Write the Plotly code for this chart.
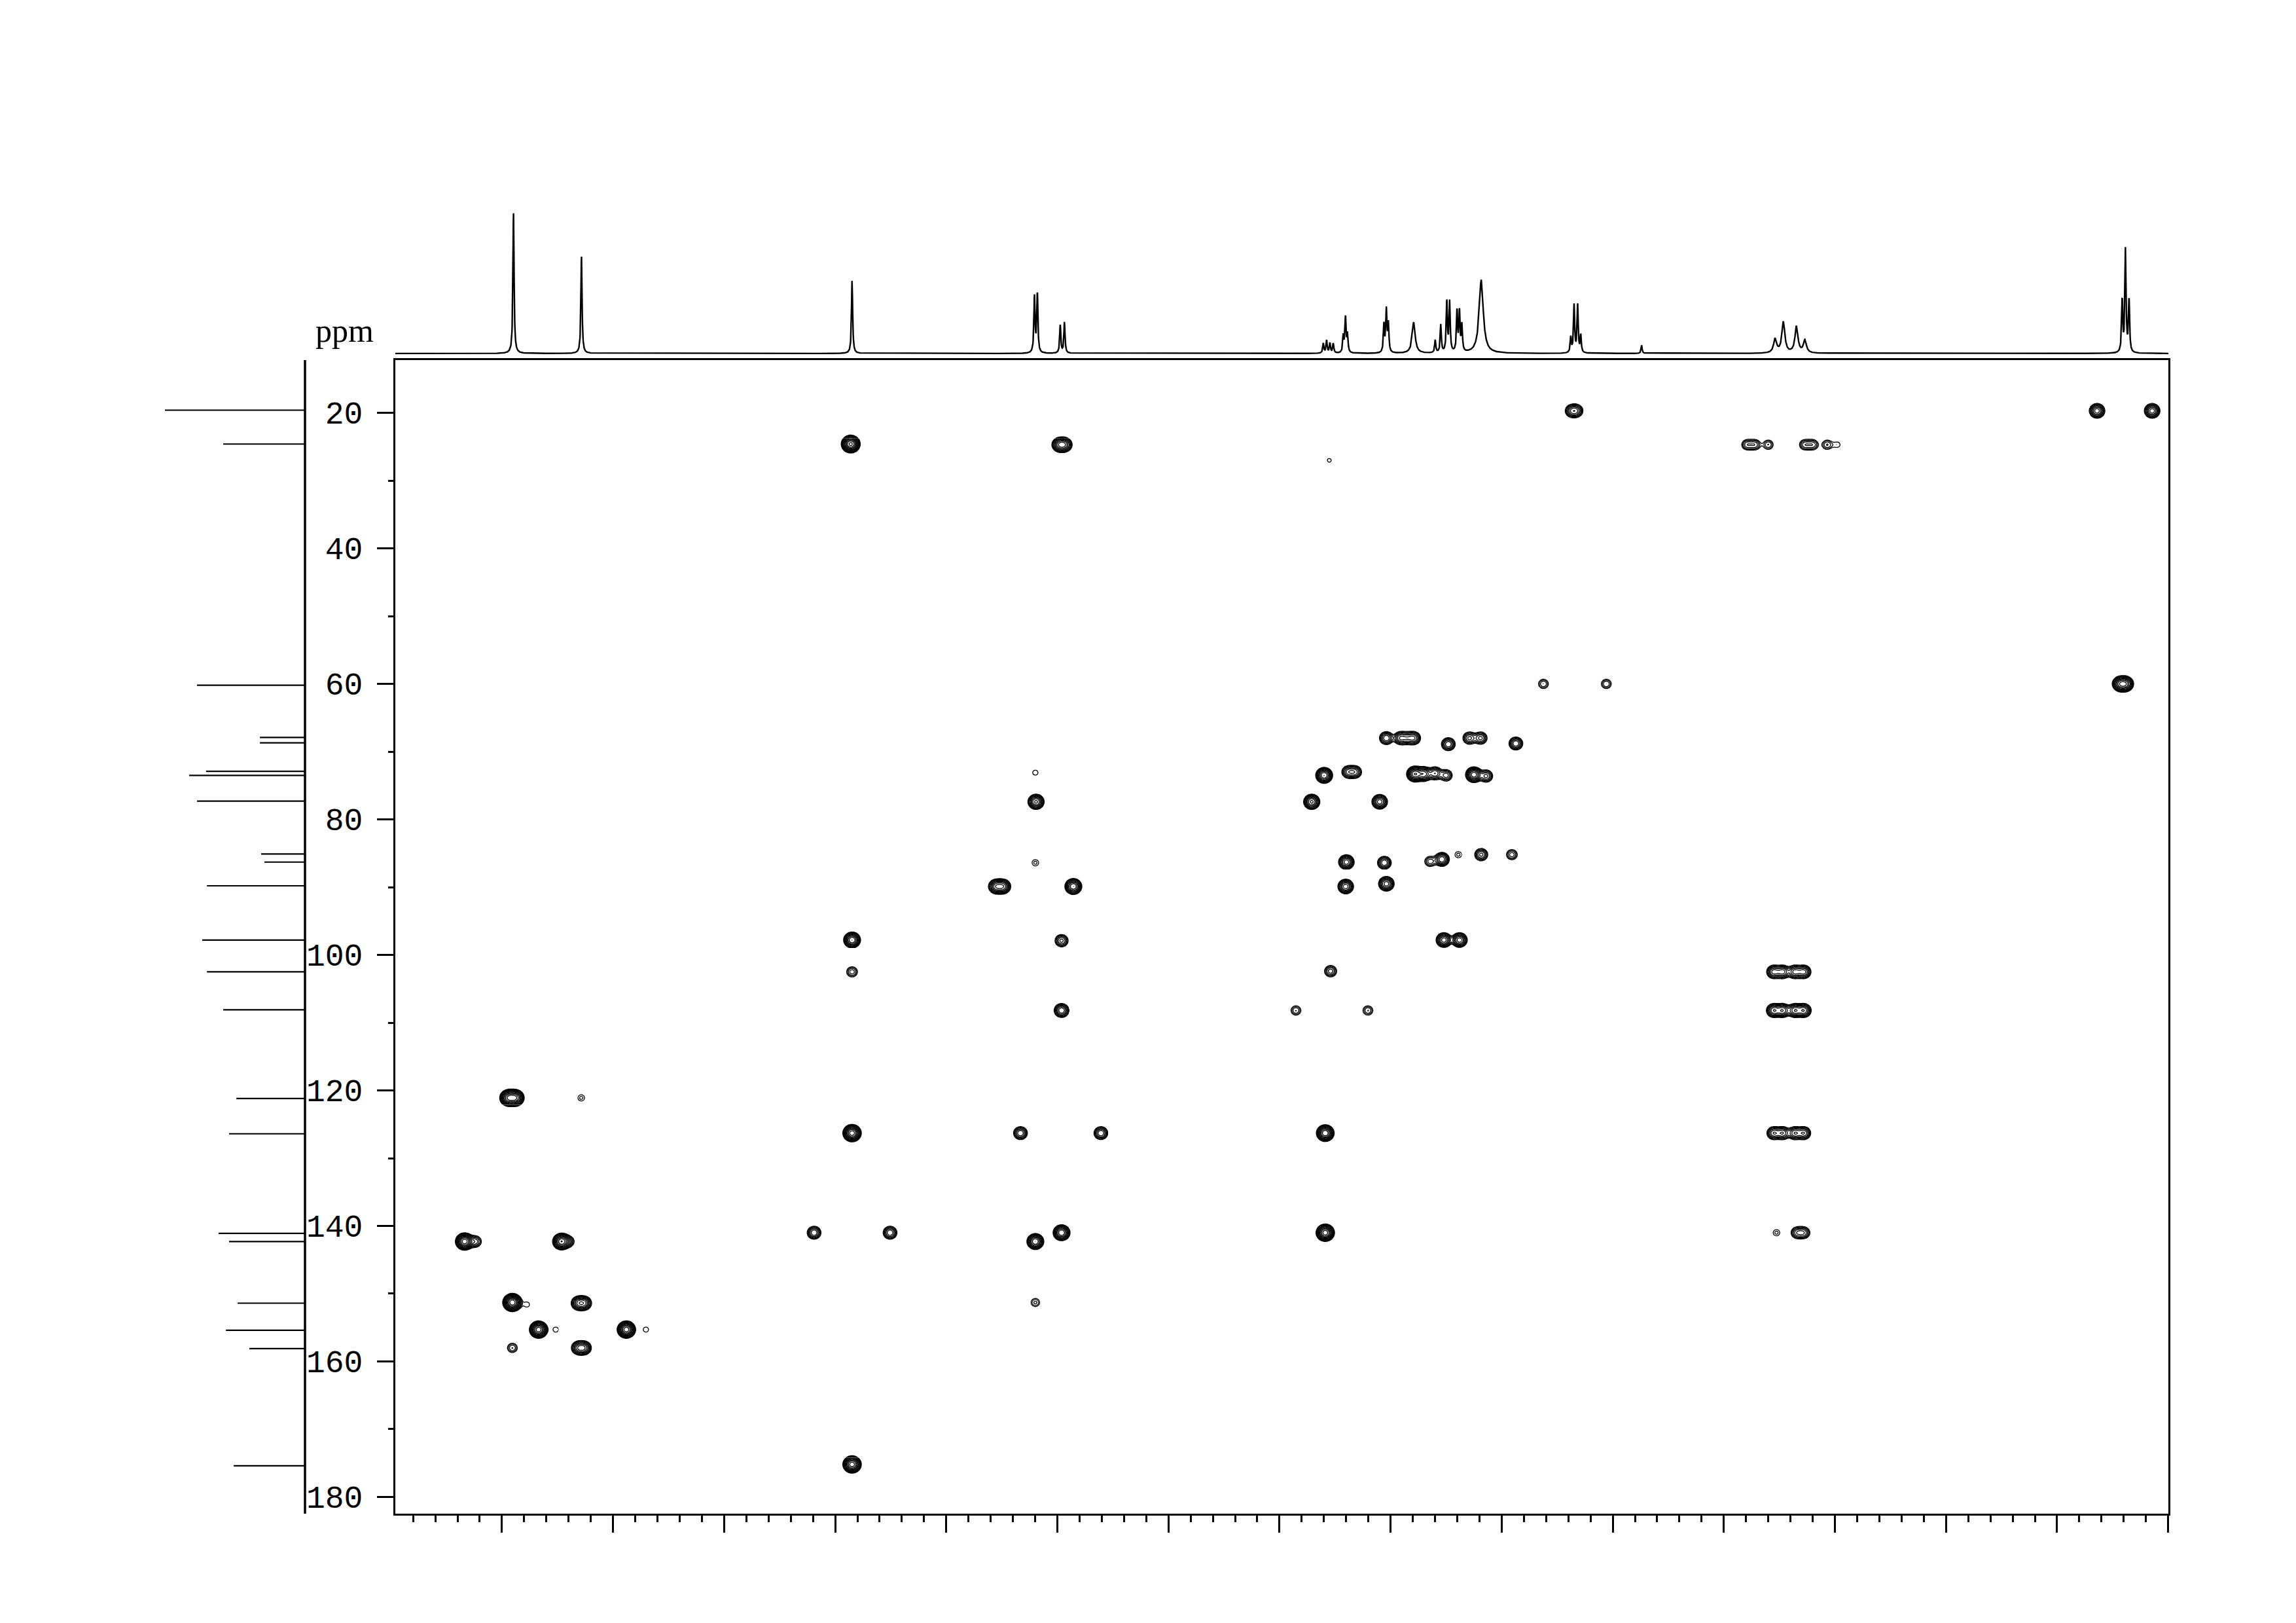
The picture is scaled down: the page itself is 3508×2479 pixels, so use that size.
import numpy as np
import plotly.graph_objects as go

# ---------------- data ----------------
# 1H projection (top): peak positions (ppm), relative heights, half-widths (ppm)
h1_ppm = [8.448, 8.142, 6.924, 6.103, 6.090, 5.987, 5.968,
          4.803, 4.788, 4.773, 4.758, 4.713, 4.703, 4.694,
          4.530, 4.519, 4.510, 4.396, 4.299, 4.274, 4.247, 4.234,
          4.201, 4.190, 4.179, 4.092, 3.689, 3.674, 3.658, 3.644,
          3.370, 2.769, 2.732, 2.673, 2.635, 1.207, 1.192, 1.176]
h1_int = [1.0, 0.69, 0.52, 0.40, 0.42, 0.20, 0.22,
          0.07, 0.09, 0.07, 0.07, 0.12, 0.25, 0.13,
          0.20, 0.30, 0.20, 0.22, 0.09, 0.20, 0.36, 0.36,
          0.29, 0.28, 0.19, 0.52, 0.11, 0.34, 0.34, 0.12,
          0.055, 0.10, 0.22, 0.19, 0.09, 0.37, 0.74, 0.37]
h1_hw = [0.003, 0.003, 0.003, 0.003, 0.003, 0.003, 0.003,
         0.003, 0.003, 0.003, 0.003, 0.003, 0.003, 0.003,
         0.003, 0.003, 0.003, 0.008, 0.003, 0.003, 0.003, 0.003,
         0.003, 0.003, 0.003, 0.011, 0.003, 0.003, 0.003, 0.003,
         0.003, 0.008, 0.008, 0.008, 0.008, 0.003, 0.003, 0.003]

# 13C projection (left): shifts (ppm) and relative heights
c13_ppm = [19.6, 24.6, 60.2, 67.9, 68.7, 72.9, 73.5, 77.3, 85.1, 86.3, 89.8,
           97.8, 102.5, 108.1, 121.2, 126.4, 141.1, 142.3, 151.4, 155.4, 158.1, 175.4]
c13_int = [1.0, 0.584, 0.771, 0.322, 0.322, 0.706, 0.827, 0.771, 0.313, 0.29, 0.70,
           0.734, 0.70, 0.584, 0.49, 0.542, 0.617, 0.542, 0.481, 0.565, 0.397, 0.509]

# HMBC cross peaks: 1H shift, 13C shift, relative intensity
hmbc_h = [3.684, 3.664, 1.320, 1.072,
          6.930, 5.990, 5.968, 2.895, 2.860, 2.800, 2.635, 2.600, 2.535, 2.489, 4.776,
          3.812, 3.529, 1.215, 1.192,
          4.519, 4.455, 4.425, 4.396, 4.240, 4.145, 4.095, 3.936,
          4.799, 4.690, 4.660, 4.390, 4.350, 4.300, 4.250, 4.125, 4.070, 6.099,
          4.855, 4.549, 6.096,
          4.269, 4.322, 4.195, 4.092, 3.954, 4.699, 4.528, 6.099,
          4.702, 4.519, 6.275, 6.245, 5.928,
          4.260, 4.190, 5.981, 6.924,
          6.924, 4.770, 2.775, 2.735, 2.680, 2.640,
          4.926, 4.602, 5.981, 2.775, 2.735, 2.680, 2.640,
          8.470, 8.440, 8.143,
          6.924, 6.166, 5.804, 4.794, 2.775, 2.735, 2.680, 2.640,
          7.095, 6.753, 5.981, 4.794, 2.763, 2.670, 2.640,
          8.668, 8.620, 8.232, 8.200, 6.099,
          8.453, 8.388, 8.155, 8.130, 6.099,
          8.335, 8.258, 7.940, 7.852,
          8.453, 8.155, 8.130,
          6.924]
hmbc_c = [19.7, 19.7, 19.7, 19.7,
          24.6, 24.7, 24.7, 24.7, 24.7, 24.7, 24.7, 24.7, 24.7, 24.7, 27.0,
          60.0, 60.0, 60.0, 60.0,
          68.0, 68.0, 68.0, 68.0, 68.9, 68.0, 68.0, 68.8,
          73.5, 73.0, 73.0, 73.3, 73.3, 73.2, 73.5, 73.4, 73.6, 73.1,
          77.4, 77.4, 77.4,
          85.9, 86.2, 85.2, 85.2, 85.2, 86.3, 86.4, 86.4,
          89.9, 89.5, 89.9, 89.9, 89.9,
          97.8, 97.8, 97.9, 97.8,
          102.5, 102.4, 102.5, 102.5, 102.5, 102.5,
          108.2, 108.2, 108.2, 108.2, 108.2, 108.2, 108.2,
          121.1, 121.1, 121.1,
          126.3, 126.3, 126.3, 126.3, 126.3, 126.3, 126.3, 126.3,
          141.0, 141.0, 141.0, 141.0, 141.0, 141.0, 141.0,
          142.3, 142.3, 142.3, 142.3, 142.3,
          151.3, 151.6, 151.4, 151.4, 151.3,
          155.3, 155.3, 155.3, 155.3,
          158.0, 158.0, 158.0,
          175.2]
hmbc_i = [5, 5, 10, 10,
          30, 9, 9, 3, 3, 2.5, 3, 3, 2.5, 1.3, 1.15,
          2.5, 2.5, 12, 12,
          6, 6, 4, 6, 6, 5, 5, 6,
          15, 5, 5, 15, 10, 6, 4, 14, 5, 1.3,
          12, 10, 12,
          8, 3, 1.5, 5, 3, 10, 6, 1.5,
          10, 10, 10, 10, 15,
          10, 10, 5, 15,
          3, 4, 7, 7, 7, 7,
          2.5, 2.5, 8, 8, 8, 8, 8,
          20, 20, 1.5,
          25, 6, 6, 20, 6, 6, 6, 6,
          6, 6, 15, 25, 1.5, 4, 4,
          25, 4, 20, 3, 15,
          35, 1.3, 8, 8, 2,
          25, 1.3, 25, 1.3,
          2.5, 7, 7,
          25]

y_ticks = [20, 40, 60, 80, 100, 120, 140, 160, 180]

# ---------------- layout geometry ----------------
FW, FH = 3508, 2479
OFF = 8                               # page body margin
X_LEFT, X_RIGHT = 8.980, 0.999      # 1H range (reversed)
Y_TOP, Y_BOT = 12.2, 182.5           # 13C range (reversed)
PX_L, PX_R, PX_T, PX_B = 604, 3313, 551, 2317

def xd(p):
    return (p - OFF) / FW

def yd(p):
    return 1 - (p - OFF) / FH

px_per_h = (PX_R - PX_L) / (X_LEFT - X_RIGHT)
px_per_c = (PX_B - PX_T) / (Y_BOT - Y_TOP)

fig = go.Figure()

# ---------------- 2D contour map (tiled) ----------------
step = 1.5
hgrid = np.arange(X_RIGHT, X_LEFT, step / px_per_h)
cgrid = np.arange(Y_TOP, Y_BOT, step / px_per_c)
Z = np.zeros((len(cgrid), len(hgrid)))
sh = 5.6 / px_per_h
sc = 5.3 / px_per_c
for h, c, a in zip(hmbc_h, hmbc_c, hmbc_i):
    i0 = max(np.searchsorted(hgrid, h - 5 * sh) - 1, 0)
    i1 = min(np.searchsorted(hgrid, h + 5 * sh) + 1, len(hgrid))
    j0 = max(np.searchsorted(cgrid, c - 5 * sc) - 1, 0)
    j1 = min(np.searchsorted(cgrid, c + 5 * sc) + 1, len(cgrid))
    gx = np.exp(-0.5 * ((hgrid[i0:i1] - h) / sh) ** 2)
    gy = np.exp(-0.5 * ((cgrid[j0:j1] - c) / sc) ** 2)
    Z[j0:j1, i0:i1] += a * np.outer(gy, gx)
L = np.log(np.maximum(Z, 1e-3))

T = 40
ny, nx = Z.shape
for tj in range(0, ny - 1, T):
    for ti in range(0, nx - 1, T):
        sub = Z[tj:tj + T + 1, ti:ti + T + 1]
        if sub.max() < 1.0:
            continue
        fig.add_trace(go.Contour(
            x=np.round(hgrid[ti:ti + T + 1], 5),
            y=np.round(cgrid[tj:tj + T + 1], 4),
            z=np.round(L[tj:tj + T + 1, ti:ti + T + 1], 3),
            xaxis="x", yaxis="y",
            autocontour=False,
            contours=dict(coloring="lines", start=0, end=5, size=0.3, showlabels=False),
            colorscale=[[0, "black"], [1, "black"]],
            line=dict(width=1.3),
            showscale=False, hoverinfo="skip",
        ))

# ---------------- top 1H projection ----------------
xs = np.linspace(X_RIGHT, X_LEFT, 9000)
spec = np.zeros_like(xs)
for p, a, w in zip(h1_ppm, h1_int, h1_hw):
    spec += a / (1 + ((xs - p) / w) ** 2)
fig.add_trace(go.Scatter(x=xs, y=spec, mode="lines", xaxis="x2", yaxis="y2",
                         line=dict(color="black", width=2.4), hoverinfo="skip",
                         showlegend=False))

# ---------------- left 13C projection ----------------
sx, sy = [], []
for p, a in zip(c13_ppm, c13_int):
    sx += [0, a, None]
    sy += [p, p, None]
fig.add_trace(go.Scatter(x=sx, y=sy, mode="lines", xaxis="x3", yaxis="y",
                         line=dict(color="black", width=2.2), hoverinfo="skip",
                         showlegend=False))
fig.add_trace(go.Scatter(x=[0, 0], y=[Y_TOP, Y_BOT], mode="lines", xaxis="x3", yaxis="y",
                         line=dict(color="black", width=3.5), hoverinfo="skip",
                         showlegend=False))

top_base, top_peak = 541, 326
tscale = top_base - top_peak
y2_lo = -(548 - top_base) / tscale
y2_hi = 1 + (top_peak - 318) / tscale

c_left, c_base = 240, 466
cscale = 214
x3_hi = (c_base - c_left) / cscale
x3_lo = -(472 - c_base) / cscale

fig.update_layout(
    width=FW, height=FH, margin=dict(l=0, r=0, t=0, b=0),
    paper_bgcolor="white", plot_bgcolor="rgba(0,0,0,0)",
    showlegend=False,
    xaxis=dict(domain=[xd(PX_L), xd(PX_R)], range=[X_LEFT, X_RIGHT], anchor="y",
               showgrid=False, zeroline=False, showticklabels=False,
               showline=True, linewidth=3, linecolor="black", mirror=True,
               ticks="outside", ticklen=26, tickwidth=2.5, tickcolor="black",
               tick0=0, dtick=0.5,
               minor=dict(ticks="outside", ticklen=10, tickwidth=2.5,
                          tickcolor="black", dtick=0.1, tick0=0)),
    yaxis=dict(domain=[yd(PX_B), yd(PX_T)], range=[Y_BOT, Y_TOP], anchor="x",
               showgrid=False, zeroline=False,
               showline=True, linewidth=3, linecolor="black", mirror=True,
               ticks="outside", ticklen=25, tickwidth=3, tickcolor="black",
               tickmode="array", tickvals=y_ticks, ticktext=[str(v) for v in y_ticks],
               ticklabelstandoff=12,
               tickfont=dict(family="Liberation Mono", size=48, color="black"),
               minor=dict(ticks="outside", ticklen=8, tickwidth=3,
                          tickcolor="black", dtick=10, tick0=0)),
    xaxis2=dict(domain=[xd(PX_L), xd(PX_R)], range=[X_LEFT, X_RIGHT], anchor="y2",
                visible=False),
    yaxis2=dict(domain=[yd(548), yd(318)], range=[y2_lo, y2_hi], anchor="x2",
                visible=False),
    xaxis3=dict(domain=[xd(c_left), xd(472)], range=[x3_hi, x3_lo], anchor="y",
                visible=False),
)

fig.add_annotation(text="ppm", xref="paper", yref="paper",
                   x=xd(480), y=yd(506), xanchor="left", yanchor="middle",
                   showarrow=False,
                   font=dict(family="Liberation Serif", size=50, color="black"))

fig.write_html("out.html")
